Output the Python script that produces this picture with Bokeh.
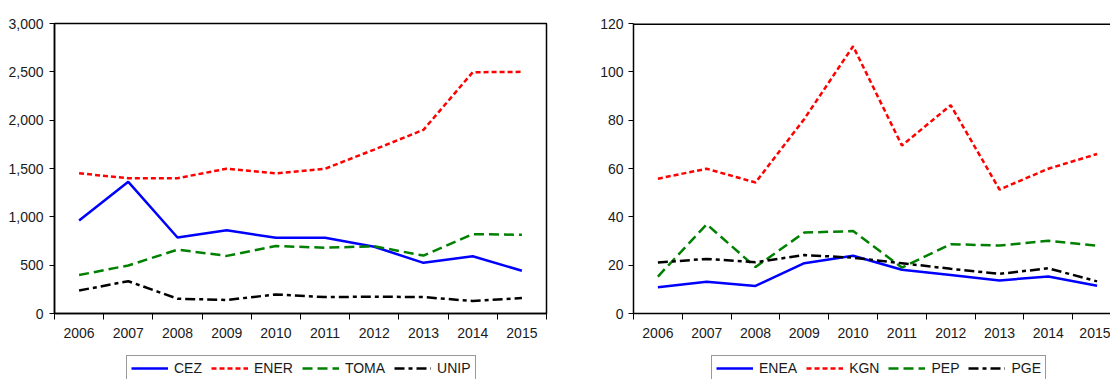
from bokeh.plotting import figure
from bokeh.layouts import row, column
from bokeh.models import Range1d, FixedTicker, NumeralTickFormatter, Span, Legend
from bokeh.embed import file_html
from bokeh.resources import INLINE

years = ["2006", "2007", "2008", "2009", "2010", "2011", "2012", "2013", "2014", "2015"]

cez = [963, 1362, 786, 861, 783, 783, 690, 524, 592, 443]
ener = [1450, 1400, 1400, 1498, 1450, 1498, 1696, 1900, 2496, 2500]
toma = [398, 497, 660, 596, 698, 681, 695, 599, 821, 814]
unip = [238, 334, 153, 140, 197, 170, 174, 170, 129, 160]

enea = [10.9, 13.1, 11.4, 20.8, 23.9, 18.1, 15.9, 13.7, 15.3, 11.5]
kgn = [55.8, 59.9, 54.2, 80.5, 110.6, 69.5, 86.2, 51.3, 59.9, 66.0]
pep = [15.3, 36.9, 19.2, 33.5, 34.1, 19.0, 28.7, 28.1, 30.1, 28.1]
pge = [21.1, 22.6, 21.2, 24.2, 23.1, 20.8, 18.5, 16.4, 18.7, 13.3]

left_names = ["CEZ", "ENER", "TOMA", "UNIP"]
right_names = ["ENEA", "KGN", "PEP", "PGE"]
left_ticks = [0, 500, 1000, 1500, 2000, 2500, 3000]
right_ticks = [0, 20, 40, 60, 80, 100, 120]

FONT = "Liberation Sans"
FS = "14px"
TXT = "#1a1a1a"
xs = list(range(len(years)))

STYLES = [
    ("#0000FF", "solid"),
    ("#FF0000", "5 3"),
    ("#008000", "10 5"),
    ("#000000", "10 4 4 4"),
]


def make_fig(width, height, bl, br, bt, bb, xend, ymax, yticks, fmt, standoff):
    p = figure(width=width, height=height, output_backend="svg", toolbar_location=None,
               min_border_left=bl, min_border_right=br, min_border_top=bt, min_border_bottom=bb,
               x_range=Range1d(-0.5, xend), y_range=Range1d(0, ymax))
    p.grid.visible = False
    p.background_fill_color = "white"
    p.border_fill_color = "white"
    p.outline_line_color = "#000000"
    p.outline_line_width = 1.5
    xa = p.xaxis[0]
    xa.ticker = FixedTicker(ticks=xs, minor_ticks=[i - 0.5 for i in range(len(years) + 1)])
    xa.major_label_overrides = {i: y for i, y in enumerate(years)}
    xa.major_tick_out = 0
    xa.major_tick_in = 0
    xa.minor_tick_out = 6
    xa.minor_tick_in = 0
    xa.minor_tick_line_color = "#000000"
    xa.major_label_standoff = 8
    ya = p.yaxis[0]
    ya.ticker = FixedTicker(ticks=yticks)
    ya.major_tick_out = 5
    ya.major_tick_in = 0
    ya.minor_tick_out = 0
    ya.minor_tick_in = 0
    ya.major_label_standoff = standoff
    if fmt:
        ya.formatter = NumeralTickFormatter(format=fmt)
    for ax in (xa, ya):
        ax.axis_line_color = "#000000"
        ax.axis_line_width = 1.5
        ax.major_tick_line_color = "#000000"
        ax.major_label_text_font = FONT
        ax.major_label_text_font_size = FS
        ax.major_label_text_color = TXT
    return p


def add_lines(p, series):
    for vals, (col, dash) in zip(series, STYLES):
        p.line(xs, vals, line_color=col, line_width=2.5, line_dash=dash)


def legend_fig(width, names, series, xloc):
    f = figure(width=width, height=29, output_backend="svg", toolbar_location=None,
               min_border_left=0, min_border_right=0, min_border_top=0, min_border_bottom=0,
               x_axis_location=None, y_axis_location=None,
               x_range=Range1d(100, 101), y_range=Range1d(100000, 100001))
    f.grid.visible = False
    f.outline_line_color = None
    f.background_fill_color = "white"
    f.border_fill_color = "white"
    items = []
    for name, vals, (col, dash) in zip(names, series, STYLES):
        r = f.line(xs, vals, line_color=col, line_width=2.5, line_dash=dash)
        items.append((name, [r]))
    lg = Legend(items=items, orientation="horizontal", location=(xloc, -2),
                label_text_font=FONT, label_text_font_size=FS, label_text_color=TXT,
                glyph_width=37, glyph_height=16, label_height=16, label_standoff=6,
                spacing=9, padding=4, margin=0,
                border_line_color="#333333", border_line_width=1,
                background_fill_alpha=1, inactive_fill_alpha=0)
    f.add_layout(lg, "center")
    return f


p1 = make_fig(570, 350, 54, 24, 21, 36, 9.5, 3000, left_ticks, "0,0", 6)
add_lines(p1, [cez, ener, toma, unip])

p2 = make_fig(540, 350, 63, 0, 23, 37, -0.5 + 477 / 48.8, 120, right_ticks, None, 5)
p2.outline_line_color = None
p2.add_layout(Span(location=120, dimension="width", line_color="#000000", line_width=3, level="overlay"))
add_lines(p2, [enea, kgn, pep, pge])

l1 = legend_fig(570, left_names, [cez, ener, toma, unip], 126)
l2 = legend_fig(540, right_names, [enea, kgn, pep, pge], 141)

layout = column(row(p1, p2), row(l1, l2))
open("out.html", "w").write(file_html(layout, INLINE))
